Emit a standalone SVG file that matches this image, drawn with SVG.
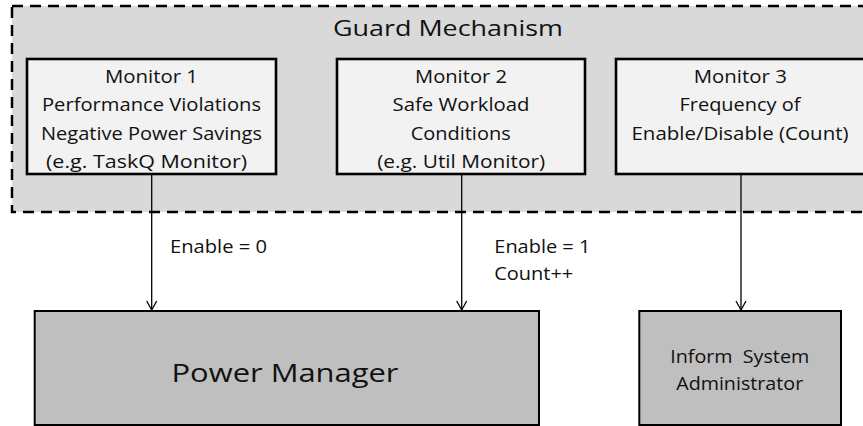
<svg xmlns="http://www.w3.org/2000/svg" width="863" height="426" viewBox="0 0 863 426">
  <style>
    .guard { fill: #d9d9d9; stroke: #000; stroke-width: 2.5; stroke-dasharray: 11 7; }
    .monitor { fill: #f2f2f2; stroke: #000; stroke-width: 2.6; }
    .target { fill: #bfbfbf; stroke: #000; stroke-width: 2; }
    text { font-family: "Open Sans", "Liberation Sans", sans-serif; fill: #111; white-space: pre; }
    .c { text-anchor: middle; }
    .m { font-size: 17.5px; }
    .lbl { font-size: 18.5px; }
    .big { font-size: 25px; }
    .title { font-size: 21px; }
    .wire { fill: none; stroke: #000; stroke-width: 1.3; }
  </style>
  <defs>
    <marker id="arrow" markerUnits="userSpaceOnUse" markerWidth="14" markerHeight="14" refX="11" refY="6" orient="auto">
      <path d="M2,1 L11,6 L2,11" fill="none" stroke="#000" stroke-width="1.3"/>
    </marker>
  </defs>

  <!-- Guard Mechanism container -->
  <g id="guard">
    <rect class="guard" x="12" y="6" width="880" height="206"/>
    <text class="c title" x="448" y="36" textLength="230" lengthAdjust="spacingAndGlyphs">Guard Mechanism</text>
  </g>

  <g id="monitor1">
    <rect class="monitor" x="27" y="59" width="249" height="115"/>
    <text class="c m" x="151.5" y="83.3" textLength="93" lengthAdjust="spacingAndGlyphs">Monitor 1</text>
    <text class="c m" x="151.5" y="111.4" textLength="219" lengthAdjust="spacingAndGlyphs">Performance Violations</text>
    <text class="c m" x="151.5" y="139.7" textLength="221" lengthAdjust="spacingAndGlyphs">Negative Power Savings</text>
    <text class="c m" x="146.5" y="168" textLength="201" lengthAdjust="spacingAndGlyphs">(e.g. TaskQ Monitor)</text>
  </g>

  <g id="monitor2">
    <rect class="monitor" x="337" y="59" width="248" height="115"/>
    <text class="c m" x="461" y="83.3" textLength="92" lengthAdjust="spacingAndGlyphs">Monitor 2</text>
    <text class="c m" x="461" y="111.4" textLength="137" lengthAdjust="spacingAndGlyphs">Safe Workload</text>
    <text class="c m" x="460.7" y="139.7" textLength="100" lengthAdjust="spacingAndGlyphs">Conditions</text>
    <text class="c m" x="461.2" y="168" textLength="168" lengthAdjust="spacingAndGlyphs">(e.g. Util Monitor)</text>
  </g>

  <g id="monitor3">
    <rect class="monitor" x="616" y="59" width="270" height="115"/>
    <text class="c m" x="740.3" y="83.3" textLength="93" lengthAdjust="spacingAndGlyphs">Monitor 3</text>
    <text class="c m" x="740" y="111.4" textLength="121" lengthAdjust="spacingAndGlyphs">Frequency of</text>
    <text class="c m" x="740" y="139.7" textLength="217" lengthAdjust="spacingAndGlyphs">Enable/Disable (Count)</text>
  </g>

  <g id="power-manager">
    <rect class="target" x="34.7" y="311" width="504.3" height="114"/>
    <text class="c big" x="285" y="381.7" textLength="227" lengthAdjust="spacingAndGlyphs">Power Manager</text>
  </g>

  <g id="inform-admin">
    <rect class="target" x="639.3" y="311" width="201.7" height="114"/>
    <text class="c m" x="739.7" y="363.3" textLength="139" lengthAdjust="spacingAndGlyphs">Inform  System</text>
    <text class="c m" x="739.7" y="390" textLength="127" lengthAdjust="spacingAndGlyphs">Administrator</text>
  </g>

  <!-- Connectors -->
  <g id="connectors">
    <line class="wire" x1="151.7" y1="174" x2="151.7" y2="310" marker-end="url(#arrow)"/>
    <line class="wire" x1="461.7" y1="174" x2="461.7" y2="310" marker-end="url(#arrow)"/>
    <line class="wire" x1="741" y1="174" x2="741" y2="310" marker-end="url(#arrow)"/>
    <text class="lbl" x="170" y="252.7" textLength="97" lengthAdjust="spacingAndGlyphs">Enable = 0</text>
    <text class="lbl" x="494.3" y="252.7" textLength="96" lengthAdjust="spacingAndGlyphs">Enable = 1</text>
    <text class="lbl" x="494.3" y="280" textLength="79" lengthAdjust="spacingAndGlyphs">Count++</text>
  </g>
</svg>
